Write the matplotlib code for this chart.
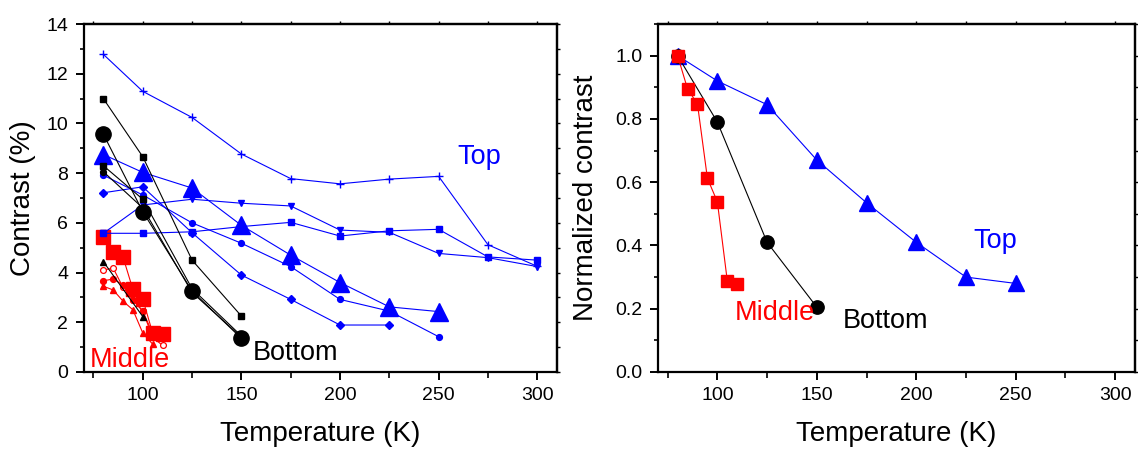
import matplotlib
matplotlib.use("Agg")
import matplotlib.pyplot as plt
from matplotlib.ticker import MultipleLocator, NullFormatter, FormatStrFormatter

plt.rcParams['font.family'] = ['Liberation Sans', 'DejaVu Sans']

BLUE = '#0000ff'
RED = '#ff0000'
BLACK = '#000000'

# ---- left panel: raw contrast (%) ----
# Top (blue, small markers)
top_T = [80, 100, 125, 150, 175, 200, 225, 250, 275, 300]
top_plus = [12.78, 11.29, 10.24, 8.77, 7.78, 7.57, 7.76, 7.87, 5.12, 4.25]
top_vtri = [5.58, 6.72, 6.95, 6.79, 6.68, 5.71, 5.62, 4.77, 4.6, 4.24]
top_sq = [5.58, 5.58, 5.64, 5.85, 6.02, 5.47, 5.68, 5.74, 4.63, 4.5]
top_T8 = [80, 100, 125, 150, 175, 200, 225, 250]
top_circ = [7.92, 7.12, 6.0, 5.18, 4.24, 2.92, 2.45, 1.42]
top_T7 = [80, 100, 125, 150, 175, 200, 225]
top_diam = [7.21, 7.45, 5.6, 3.9, 2.92, 1.89, 1.89]
top_big = [8.75, 8.03, 7.4, 5.9, 4.7, 3.6, 2.62, 2.43]

# Bottom (black)
bot_T = [80, 100, 125, 150]
bot_big = [9.57, 6.45, 3.26, 1.35]
bot_sq1 = [11.0, 8.66, 4.5, 2.25]
bot_sq2 = [8.3, 6.95, 3.35, 1.45]
bot_circ = [8.06, 6.6, 3.2, 1.4]
bot_tri_T = [80, 100]
bot_tri = [4.44, 2.23]

# Middle (red)
mid_T = [80, 85, 90, 95, 100, 105, 110]
mid_big = [5.44, 4.84, 4.62, 3.32, 2.93, 1.57, 1.52]
mid_open = [4.1, 4.18, 3.4, 2.9, 2.45, 1.4, 1.07]
mid_fill = [3.67, 3.74, 3.5, 2.9, 2.45, 1.55, 1.45]
mid_tri_T = [80, 85, 90, 95, 100, 105]
mid_tri = [3.45, 3.3, 2.85, 2.5, 1.57, 1.12]

# ---- right panel: normalized contrast ----
n_top_T = [80, 100, 125, 150, 175, 200, 225, 250]
n_top = [1.0, 0.92, 0.845, 0.67, 0.535, 0.41, 0.30, 0.28]
n_bot_T = [80, 100, 125, 150]
n_bot = [1.0, 0.79, 0.41, 0.205]
n_mid_T = [80, 85, 90, 95, 100, 105, 110]
n_mid = [1.0, 0.895, 0.847, 0.612, 0.538, 0.288, 0.278]

fig = plt.figure(figsize=(11.38, 4.5), dpi=100)
ax1 = fig.add_axes([83.6 / 1138, 78 / 450, (557 - 83.6) / 1138, 348 / 450])
ax2 = fig.add_axes([657.7 / 1138, 78 / 450, (1135 - 657.7) / 1138, 348 / 450])

lw = 0.8
sm = 4.2
# left: middle series (drawn first, underneath)
ax1.plot(mid_T, mid_open, color=RED, lw=lw, marker='o', ms=sm, mfc='white', mew=0.9)
ax1.plot(mid_T, mid_fill, color=RED, lw=lw, marker='o', ms=sm)
ax1.plot(mid_tri_T, mid_tri, color=RED, lw=lw, marker='^', ms=sm + 0.5)
ax1.plot(mid_T, mid_big, color=RED, lw=lw, marker='s', ms=10)

# left: top series
ax1.plot(top_T, top_plus, color=BLUE, lw=lw, marker='+', ms=6, mew=1)
ax1.plot(top_T, top_vtri, color=BLUE, lw=lw, marker='v', ms=sm + 0.5)
ax1.plot(top_T, top_sq, color=BLUE, lw=lw, marker='s', ms=sm)
ax1.plot(top_T8, top_circ, color=BLUE, lw=lw, marker='o', ms=sm)
ax1.plot(top_T7, top_diam, color=BLUE, lw=lw, marker='D', ms=sm - 0.3)
ax1.plot(top_T8, top_big, color=BLUE, lw=lw, marker='^', ms=12.5)

# left: bottom series
ax1.plot(bot_T, bot_sq1, color=BLACK, lw=lw, marker='s', ms=sm)
ax1.plot(bot_T, bot_sq2, color=BLACK, lw=lw, marker='s', ms=sm)
ax1.plot(bot_T, bot_circ, color=BLACK, lw=lw, marker='o', ms=sm)
ax1.plot(bot_tri_T, bot_tri, color=BLACK, lw=lw, marker='^', ms=sm + 0.5)
ax1.plot(bot_T, bot_big, color=BLACK, lw=lw, marker='o', ms=11)

# right panel
ax2.plot(n_top_T, n_top, color=BLUE, lw=lw, marker='^', ms=12)
ax2.plot(n_bot_T, n_bot, color=BLACK, lw=lw, marker='o', ms=9.6)
ax2.plot(n_mid_T, n_mid, color=RED, lw=lw, marker='s', ms=9)

tf = 19.5
ax1.text(270.5, 8.35, 'Top', color=BLUE, fontsize=tf, ha='center', va='baseline')
ax1.text(155.7, 0.48, 'Bottom', color=BLACK, fontsize=tf, ha='left', va='baseline')
ax1.text(73.2, 0.2, 'Middle', color=RED, fontsize=tf, ha='left', va='baseline')

ax2.text(239.6, 0.393, 'Top', color=BLUE, fontsize=tf, ha='center', va='baseline')
ax2.text(163.2, 0.138, 'Bottom', color=BLACK, fontsize=tf, ha='left', va='baseline')
ax2.text(108.8, 0.164, 'Middle', color=RED, fontsize=tf, ha='left', va='baseline')

for ax in (ax1, ax2):
    ax.set_xlim(70, 310)
    ax.xaxis.set_major_locator(MultipleLocator(50))
    ax.xaxis.set_minor_locator(MultipleLocator(25))
    for s in ax.spines.values():
        s.set_linewidth(1.6)
    ax.tick_params(which='major', direction='out', length=6, width=1.4, labelsize=14, pad=5)
    ax.tick_params(which='minor', direction='out', length=4, width=1.2)
    ax.tick_params(axis='y', which='minor', length=3)
    ax.set_xlabel('Temperature (K)', fontsize=20)
    ax.xaxis.set_label_coords(0.5, -0.141)
    sx = ax.secondary_xaxis('top')
    sx.xaxis.set_major_locator(MultipleLocator(25))
    sx.xaxis.set_major_formatter(NullFormatter())
    sx.tick_params(direction='out', length=2.5, width=1)
    sx.spines['top'].set_linewidth(1.6)
    sy = ax.secondary_yaxis('right')
    sy.yaxis.set_major_formatter(NullFormatter())
    sy.tick_params(direction='out', length=2.5, width=1)
    sy.spines['right'].set_linewidth(1.6)
    ax.sy = sy

ax1.set_ylim(0, 14)
ax1.yaxis.set_major_locator(MultipleLocator(2))
ax1.yaxis.set_minor_locator(MultipleLocator(1))
ax1.set_ylabel('Contrast (%)', fontsize=20)
ax1.yaxis.set_label_coords(-0.1005, 0.5)
ax1.sy.yaxis.set_major_locator(MultipleLocator(1))

ax2.set_ylim(0, 1.1)
ax2.yaxis.set_major_locator(MultipleLocator(0.2))
ax2.yaxis.set_minor_locator(MultipleLocator(0.1))
ax2.yaxis.set_major_formatter(FormatStrFormatter('%.1f'))
ax2.set_ylabel('Normalized contrast', fontsize=20)
ax2.yaxis.set_label_coords(-0.123, 0.5)
ax2.sy.yaxis.set_major_locator(MultipleLocator(0.1))

fig.savefig('out.png', dpi=100)
